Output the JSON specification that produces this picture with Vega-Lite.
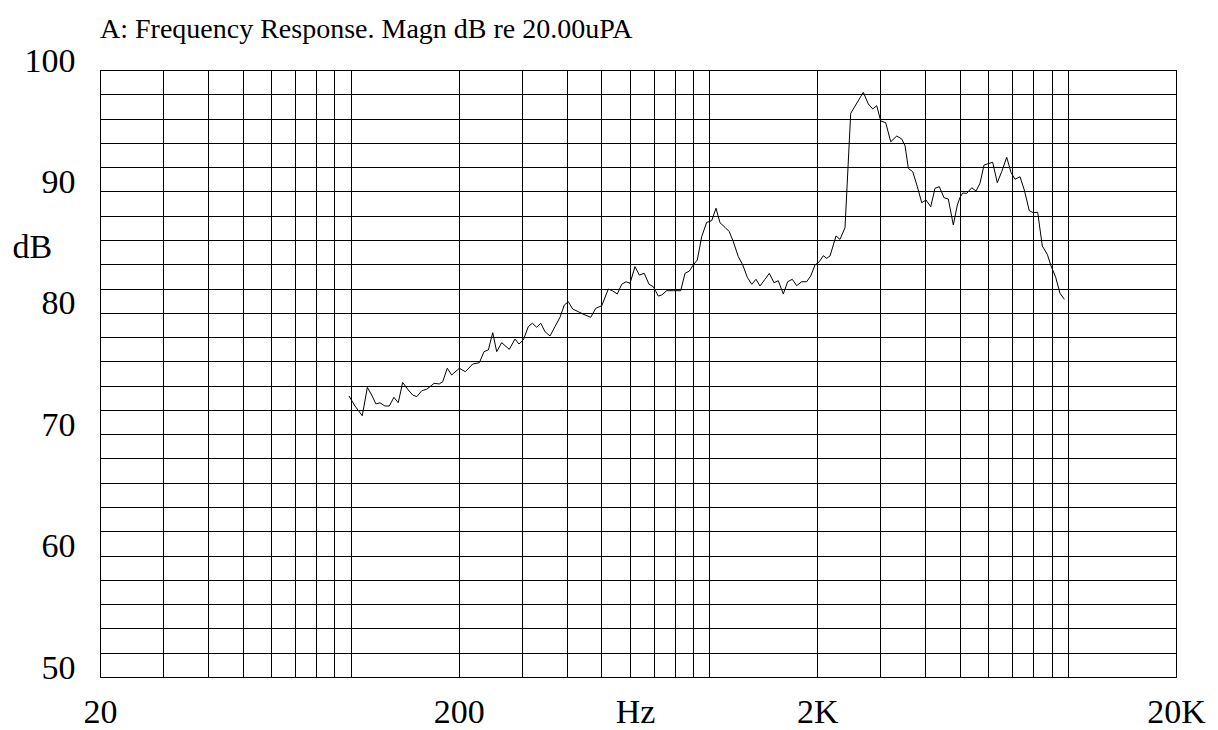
{
  "$schema": "https://vega.github.io/schema/vega-lite/v6.json",
  "width": 1076,
  "height": 607,
  "autosize": {"type": "none"},
  "padding": {"left": 100, "top": 70, "right": 42, "bottom": 53},
  "background": "white",
  "title": {"text": "A: Frequency Response. Magn dB re 20.00uPA", "anchor": "start", "frame": "group", "font": "Liberation Serif", "fontSize": 28, "fontWeight": "normal", "color": "black", "baseline": "alphabetic", "offset": 10, "dy": 32},
  "config": {"view": {"stroke": "black", "strokeWidth": 1}},
  "data": {"values": [
    {"freq": 98.9, "db": 73.15}, {"freq": 102.8, "db": 72.32}, {"freq": 107.7, "db": 71.52}, {"freq": 111.3, "db": 73.86},
    {"freq": 114.4, "db": 73.23}, {"freq": 117.6, "db": 72.49}, {"freq": 120.7, "db": 72.59}, {"freq": 124.6, "db": 72.32},
    {"freq": 128.1, "db": 72.32}, {"freq": 132.0, "db": 73.04}, {"freq": 135.7, "db": 72.59}, {"freq": 139.6, "db": 74.27},
    {"freq": 144.7, "db": 73.64}, {"freq": 148.9, "db": 73.23}, {"freq": 152.8, "db": 73.09}, {"freq": 157.8, "db": 73.58},
    {"freq": 162.9, "db": 73.70}, {"freq": 170.8, "db": 74.19}, {"freq": 176.6, "db": 74.14}, {"freq": 180.5, "db": 74.32},
    {"freq": 185.9, "db": 75.43}, {"freq": 191.2, "db": 74.88}, {"freq": 200.9, "db": 75.43}, {"freq": 208.8, "db": 75.15},
    {"freq": 218.9, "db": 75.78}, {"freq": 228.4, "db": 75.89}, {"freq": 235.4, "db": 76.80}, {"freq": 242.0, "db": 76.94},
    {"freq": 248.9, "db": 78.36}, {"freq": 255.3, "db": 76.80}, {"freq": 263.6, "db": 77.54}, {"freq": 276.8, "db": 76.99},
    {"freq": 287.1, "db": 77.84}, {"freq": 294.6, "db": 77.43}, {"freq": 302.9, "db": 77.76}, {"freq": 312.7, "db": 78.86},
    {"freq": 320.9, "db": 79.14}, {"freq": 330.1, "db": 78.81}, {"freq": 338.7, "db": 79.14}, {"freq": 348.2, "db": 78.44},
    {"freq": 359.5, "db": 78.09}, {"freq": 371.2, "db": 78.86}, {"freq": 383.3, "db": 79.63}, {"freq": 394.0, "db": 80.64},
    {"freq": 404.3, "db": 80.91}, {"freq": 415.9, "db": 80.31}, {"freq": 431.1, "db": 80.09}, {"freq": 450.1, "db": 79.82},
    {"freq": 467.0, "db": 79.63}, {"freq": 482.2, "db": 80.37}, {"freq": 501.1, "db": 80.58}, {"freq": 522.8, "db": 81.96},
    {"freq": 536.3, "db": 81.82}, {"freq": 553.8, "db": 81.55}, {"freq": 569.6, "db": 82.35}, {"freq": 585.6, "db": 82.56},
    {"freq": 600.8, "db": 82.43}, {"freq": 620.4, "db": 83.80}, {"freq": 637.8, "db": 83.11}, {"freq": 658.6, "db": 83.25},
    {"freq": 678.8, "db": 82.35}, {"freq": 697.8, "db": 82.15}, {"freq": 720.6, "db": 81.38}, {"freq": 736.5, "db": 81.47},
    {"freq": 760.6, "db": 81.82}, {"freq": 794.3, "db": 81.82}, {"freq": 832.0, "db": 81.82}, {"freq": 855.3, "db": 83.25},
    {"freq": 879.3, "db": 83.44}, {"freq": 902.1, "db": 83.94}, {"freq": 925.5, "db": 84.35}, {"freq": 951.9, "db": 86.27},
    {"freq": 983.0, "db": 87.45}, {"freq": 1015.1, "db": 87.59}, {"freq": 1043.5, "db": 88.61}, {"freq": 1070.7, "db": 87.42},
    {"freq": 1105.6, "db": 87.04}, {"freq": 1136.7, "db": 86.68}, {"freq": 1166.3, "db": 85.86}, {"freq": 1204.4, "db": 84.62},
    {"freq": 1239.0, "db": 83.94}, {"freq": 1276.1, "db": 82.92}, {"freq": 1312.5, "db": 82.35}, {"freq": 1349.0, "db": 82.76},
    {"freq": 1384.1, "db": 82.21}, {"freq": 1429.2, "db": 82.76}, {"freq": 1469.3, "db": 83.25}, {"freq": 1514.2, "db": 82.48},
    {"freq": 1556.6, "db": 82.64}, {"freq": 1607.4, "db": 81.55}, {"freq": 1653.3, "db": 82.56}, {"freq": 1703.0, "db": 82.76},
    {"freq": 1751.6, "db": 82.23}, {"freq": 1808.8, "db": 82.56}, {"freq": 1867.8, "db": 82.56}, {"freq": 1916.6, "db": 83.03},
    {"freq": 1970.3, "db": 83.94}, {"freq": 2025.5, "db": 84.21}, {"freq": 2078.2, "db": 84.70}, {"freq": 2124.0, "db": 84.49},
    {"freq": 2169.5, "db": 84.68}, {"freq": 2255.0, "db": 86.33}, {"freq": 2313.4, "db": 86.05}, {"freq": 2388.9, "db": 87.01},
    {"freq": 2477.7, "db": 96.43}, {"freq": 2686.6, "db": 98.16}, {"freq": 2774.6, "db": 97.20}, {"freq": 2853.7, "db": 96.79},
    {"freq": 2928.2, "db": 97.06}, {"freq": 3004.5, "db": 95.80}, {"freq": 3102.3, "db": 95.66}, {"freq": 3203.6, "db": 94.09},
    {"freq": 3329.6, "db": 94.56}, {"freq": 3438.6, "db": 94.32}, {"freq": 3512.3, "db": 93.76}, {"freq": 3587.5, "db": 91.90},
    {"freq": 3689.8, "db": 91.62}, {"freq": 3800.7, "db": 90.39}, {"freq": 3909.1, "db": 89.07}, {"freq": 4018.6, "db": 89.29},
    {"freq": 4141.7, "db": 88.74}, {"freq": 4257.7, "db": 90.26}, {"freq": 4377.0, "db": 90.39}, {"freq": 4511.0, "db": 89.48},
    {"freq": 4637.4, "db": 89.37}, {"freq": 4788.2, "db": 87.23}, {"freq": 4913.2, "db": 88.88}, {"freq": 4998.9, "db": 89.51},
    {"freq": 5086.0, "db": 89.87}, {"freq": 5218.0, "db": 89.84}, {"freq": 5389.0, "db": 90.30}, {"freq": 5539.0, "db": 90.03},
    {"freq": 5683.0, "db": 90.67}, {"freq": 5831.4, "db": 92.17}, {"freq": 6165.0, "db": 92.40}, {"freq": 6350.0, "db": 90.72},
    {"freq": 6531.0, "db": 91.62}, {"freq": 6745.0, "db": 92.81}, {"freq": 6934.0, "db": 91.57}, {"freq": 7114.0, "db": 91.00},
    {"freq": 7346.0, "db": 91.21}, {"freq": 7552.0, "db": 90.12}, {"freq": 7798.0, "db": 88.41}, {"freq": 8001.0, "db": 88.25},
    {"freq": 8230.0, "db": 88.28}, {"freq": 8477.0, "db": 85.50}, {"freq": 8754.0, "db": 84.82}, {"freq": 8947.0, "db": 83.94},
    {"freq": 9239.0, "db": 82.92}, {"freq": 9497.0, "db": 81.61}, {"freq": 9765.0, "db": 81.11}
  ]},
  "mark": {"type": "line", "color": "black", "strokeWidth": 1},
  "encoding": {
    "x": {
      "field": "freq", "type": "quantitative",
      "scale": {"type": "log", "domain": [20, 20000], "nice": false},
      "axis": {
        "values": [20,30,40,50,60,70,80,90,100,200,300,400,500,600,700,800,900,1000,2000,3000,4000,5000,6000,7000,8000,9000,10000,20000],
        "labelExpr": "datum.value == 20 ? '20' : datum.value == 200 ? '200' : datum.value == 2000 ? '2K' : datum.value == 20000 ? '20K' : ''",
        "labelFlush": false, "labelOverlap": false, "labelFont": "Liberation Serif", "labelFontSize": 34, "labelColor": "black",
        "labelPadding": 45, "labelBaseline": "alphabetic",
        "ticks": false, "tickSize": 0, "domain": false,
        "grid": true, "gridColor": "black", "gridOpacity": 1, "gridWidth": 1,
        "title": "Hz", "titleX": 535, "titleY": 45, "titleAlign": "center", "titleBaseline": "alphabetic",
        "titleFont": "Liberation Serif", "titleFontSize": 34, "titleFontWeight": "normal", "titleColor": "black"
      }
    },
    "y": {
      "field": "db", "type": "quantitative",
      "scale": {"domain": [50, 100], "nice": false, "zero": false},
      "axis": {
        "values": [50,52,54,56,58,60,62,64,66,68,70,72,74,76,78,80,82,84,86,88,90,92,94,96,98,100],
        "labelExpr": "datum.value % 10 == 0 ? datum.label : ''",
        "labelFlush": false, "labelOverlap": false, "labelFont": "Liberation Serif", "labelFontSize": 34, "labelColor": "black",
        "labelPadding": 25, "labelBaseline": "alphabetic", "labelOffset": 1,
        "ticks": false, "tickSize": 0, "domain": false,
        "grid": true, "gridColor": "black", "gridOpacity": 1, "gridWidth": 1,
        "title": "dB", "titleAngle": 0, "titleX": -88, "titleY": 187, "titleAlign": "left", "titleBaseline": "alphabetic",
        "titleFont": "Liberation Serif", "titleFontSize": 34, "titleFontWeight": "normal", "titleColor": "black"
      }
    }
  }
}
